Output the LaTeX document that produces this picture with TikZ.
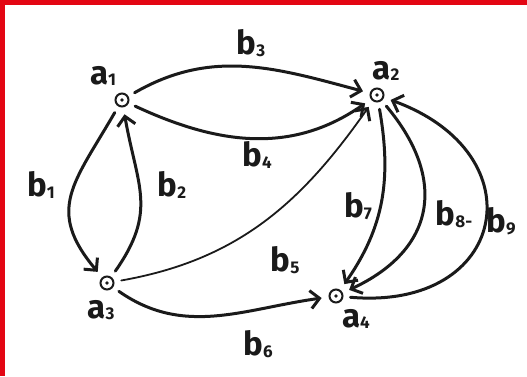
\documentclass[tikz,border=0pt]{standalone}
\usepackage{fontspec}
\setmainfont{Fira Sans}
\usetikzlibrary{arrows.meta}
\definecolor{frame}{HTML}{E30613}
\definecolor{ink}{HTML}{1A1A1A}
\newcommand{\lbl}[2]{\bfseries #1\raisebox{-1.5pt}{\fontsize{17}{17}\selectfont #2}}
\tikzset{
  vert/.style={circle,draw=ink,line width=2pt,minimum size=13pt,inner sep=0pt,outer sep=8pt},
  txt/.style={font=\fontsize{33}{33}\selectfont,text=ink,inner sep=0pt},
  edge/.style={draw=ink,line width=3pt,line cap=round,-{Straight Barb[length=9pt,width=18pt,line width=3pt]}},
  thin/.style={draw=ink,line width=1.8pt,line cap=round,-{Straight Barb[length=9pt,width=18pt,line width=3pt]}}
}
\begin{document}
\begin{tikzpicture}[x=1pt,y=1pt]
\useasboundingbox (0,0) rectangle (527,376);
\fill[frame] (0,371) rectangle (527,376);
\fill[frame] (0,0) rectangle (5,376);
% vertices
\node[vert] (a1) at (122,276) {};
\node[vert] (a2) at (377,281) {};
\node[vert] (a3) at (107,93) {};
\node[vert] (a4) at (336,80) {};
\foreach \v in {a1,a2,a3,a4} \fill[ink] (\v) circle (1.8pt);
% vertex labels
\node[txt] (la1) at (103,300) {\lbl{a}{1}};
\node[txt] (la2) at (386,305) {\lbl{a}{2}};
\node[txt] (la3) at (101,66) {\lbl{a}{3}};
\node[txt] (la4) at (356,57) {\lbl{a}{4}};
% edge labels
\node[txt] (lb3) at (251,333) {\lbl{b}{3}};
\node[txt] (lb4) at (257,221) {\lbl{b}{4}};
\node[txt] (lb1) at (41,191) {\lbl{b}{1}};
\node[txt] (lb2) at (172,191) {\lbl{b}{2}};
\node[txt] (lb5) at (285,116) {\lbl{b}{5}};
\node[txt] (lb6) at (258,32) {\lbl{b}{6}};
\node[txt] (lb7) at (358,170) {\lbl{b}{7}};
\node[txt] (lb8) at (454,162) {\lbl{b}{8-}};
\node[txt] (lb9) at (501,155) {\lbl{b}{9}};
% edges
\draw[edge] (a1) to[out=30,in=165] (a2);
\draw[edge] (a1) to[out=-25,in=-145] (a2);
\draw[edge] (a1) to[out=-120,in=130,looseness=1.3] (a3);
\draw[edge] (a3) to[out=55,in=-80,looseness=1.2] (a1);
\draw[thin] (a3) to[out=10,in=-125] (a2);
\draw[edge] (a3) to[out=-35,in=188] (a4);
\draw[edge] (a2) to[out=-80,in=55] (a4);
\draw[edge] (a2) to[out=-50,in=25,looseness=1.3] (a4);
\draw[edge] (a4) to[out=-5,in=-20,looseness=2] (a2);
\end{tikzpicture}
\end{document}
